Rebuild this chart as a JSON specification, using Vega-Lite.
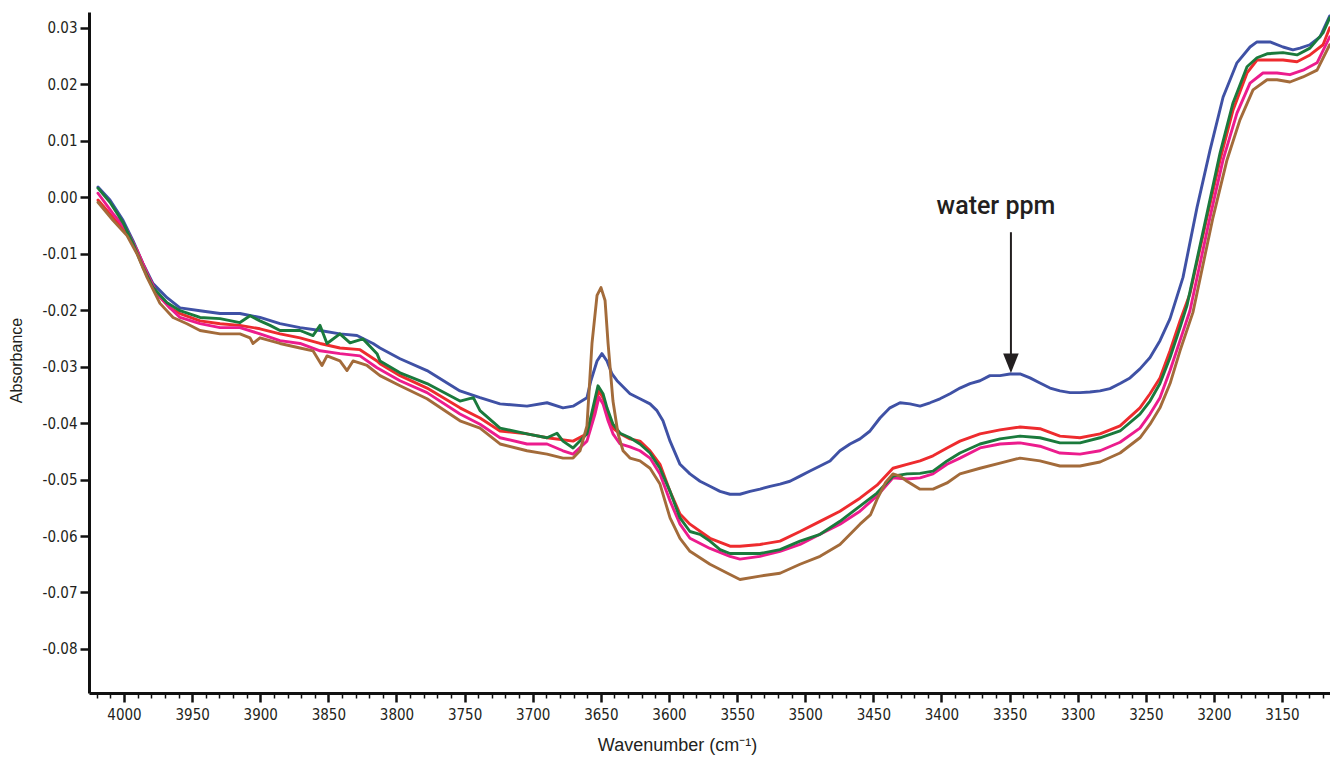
{
  "$schema": "https://vega.github.io/schema/vega-lite/v6.json",
  "autosize": "none",
  "width": 1241,
  "height": 681,
  "padding": {"left": 89, "top": 12, "right": 0, "bottom": 64},
  "background": "white",
  "config": {"view": {"stroke": null}},
  "resolve": {"axis": {"x": "independent"}},
  "layer": [
    {
      "data": {"values": [
        {"s":"blue","w":4019.1,"a":0.0018},{"s":"blue","w":4010.3,"a":-0.0005},{"s":"blue","w":4000.7,"a":-0.0041},{"s":"blue","w":3993.4,"a":-0.0077},{"s":"blue","w":3986.1,"a":-0.0117},{"s":"blue","w":3978.7,"a":-0.0153},{"s":"blue","w":3968.4,"a":-0.0178},{"s":"blue","w":3958.9,"a":-0.0196},{"s":"blue","w":3944.2,"a":-0.0201},{"s":"blue","w":3929.5,"a":-0.0206},{"s":"blue","w":3914.9,"a":-0.0206},{"s":"blue","w":3900.2,"a":-0.0213},{"s":"blue","w":3885.5,"a":-0.0224},{"s":"blue","w":3870.8,"a":-0.0231},{"s":"blue","w":3856.1,"a":-0.0236},{"s":"blue","w":3841.5,"a":-0.0242},{"s":"blue","w":3829.0,"a":-0.0245},{"s":"blue","w":3817.2,"a":-0.0259},{"s":"blue","w":3812.1,"a":-0.0267},{"s":"blue","w":3797.4,"a":-0.0286},{"s":"blue","w":3777.6,"a":-0.0307},{"s":"blue","w":3753.4,"a":-0.0343},{"s":"blue","w":3738.7,"a":-0.0355},{"s":"blue","w":3724.0,"a":-0.0366},{"s":"blue","w":3704.2,"a":-0.0370},{"s":"blue","w":3689.5,"a":-0.0364},{"s":"blue","w":3677.8,"a":-0.0373},{"s":"blue","w":3670.4,"a":-0.0370},{"s":"blue","w":3660.2,"a":-0.0355},{"s":"blue","w":3657.3,"a":-0.0325},{"s":"blue","w":3652.8,"a":-0.0290},{"s":"blue","w":3649.2,"a":-0.0277},{"s":"blue","w":3645.5,"a":-0.0290},{"s":"blue","w":3641.8,"a":-0.0313},{"s":"blue","w":3638.1,"a":-0.0325},{"s":"blue","w":3628.6,"a":-0.0348},{"s":"blue","w":3621.3,"a":-0.0357},{"s":"blue","w":3613.9,"a":-0.0366},{"s":"blue","w":3608.8,"a":-0.0378},{"s":"blue","w":3604.4,"a":-0.0396},{"s":"blue","w":3599.2,"a":-0.0432},{"s":"blue","w":3591.9,"a":-0.0473},{"s":"blue","w":3584.6,"a":-0.0490},{"s":"blue","w":3577.2,"a":-0.0503},{"s":"blue","w":3569.9,"a":-0.0512},{"s":"blue","w":3562.5,"a":-0.0521},{"s":"blue","w":3555.2,"a":-0.0526},{"s":"blue","w":3547.9,"a":-0.0526},{"s":"blue","w":3540.5,"a":-0.0521},{"s":"blue","w":3533.2,"a":-0.0517},{"s":"blue","w":3525.8,"a":-0.0512},{"s":"blue","w":3518.5,"a":-0.0508},{"s":"blue","w":3511.2,"a":-0.0503},{"s":"blue","w":3503.8,"a":-0.0494},{"s":"blue","w":3496.5,"a":-0.0485},{"s":"blue","w":3489.1,"a":-0.0476},{"s":"blue","w":3481.8,"a":-0.0467},{"s":"blue","w":3474.5,"a":-0.0449},{"s":"blue","w":3467.1,"a":-0.0437},{"s":"blue","w":3459.8,"a":-0.0428},{"s":"blue","w":3452.4,"a":-0.0414},{"s":"blue","w":3445.1,"a":-0.0391},{"s":"blue","w":3437.8,"a":-0.0373},{"s":"blue","w":3430.4,"a":-0.0364},{"s":"blue","w":3423.1,"a":-0.0366},{"s":"blue","w":3415.7,"a":-0.0370},{"s":"blue","w":3408.4,"a":-0.0364},{"s":"blue","w":3401.1,"a":-0.0357},{"s":"blue","w":3393.7,"a":-0.0348},{"s":"blue","w":3386.4,"a":-0.0338},{"s":"blue","w":3379.0,"a":-0.0330},{"s":"blue","w":3371.7,"a":-0.0325},{"s":"blue","w":3364.4,"a":-0.0316},{"s":"blue","w":3357.0,"a":-0.0316},{"s":"blue","w":3349.7,"a":-0.0313},{"s":"blue","w":3342.3,"a":-0.0313},{"s":"blue","w":3335.0,"a":-0.0320},{"s":"blue","w":3327.7,"a":-0.0329},{"s":"blue","w":3320.3,"a":-0.0338},{"s":"blue","w":3313.0,"a":-0.0343},{"s":"blue","w":3305.6,"a":-0.0346},{"s":"blue","w":3298.3,"a":-0.0346},{"s":"blue","w":3291.0,"a":-0.0345},{"s":"blue","w":3283.6,"a":-0.0343},{"s":"blue","w":3276.3,"a":-0.0339},{"s":"blue","w":3268.9,"a":-0.0330},{"s":"blue","w":3261.6,"a":-0.0320},{"s":"blue","w":3254.3,"a":-0.0304},{"s":"blue","w":3246.9,"a":-0.0284},{"s":"blue","w":3239.6,"a":-0.0254},{"s":"blue","w":3232.2,"a":-0.0215},{"s":"blue","w":3222.7,"a":-0.0142},{"s":"blue","w":3212.4,"a":-0.0018},{"s":"blue","w":3202.9,"a":0.0083},{"s":"blue","w":3193.3,"a":0.0177},{"s":"blue","w":3183.1,"a":0.0238},{"s":"blue","w":3173.5,"a":0.0266},{"s":"blue","w":3168.4,"a":0.0275},{"s":"blue","w":3158.8,"a":0.0275},{"s":"blue","w":3149.3,"a":0.0266},{"s":"blue","w":3142.0,"a":0.0261},{"s":"blue","w":3136.8,"a":0.0264},{"s":"blue","w":3129.5,"a":0.0270},{"s":"blue","w":3122.1,"a":0.0284},{"s":"blue","w":3115.0,"a":0.0321},

        {"s":"red","w":4019.1,"a":-0.0005},{"s":"red","w":4008.1,"a":-0.0036},{"s":"red","w":3997.8,"a":-0.0064},{"s":"red","w":3990.5,"a":-0.0094},{"s":"red","w":3983.1,"a":-0.0135},{"s":"red","w":3975.8,"a":-0.0171},{"s":"red","w":3966.2,"a":-0.0196},{"s":"red","w":3958.9,"a":-0.0206},{"s":"red","w":3944.2,"a":-0.0219},{"s":"red","w":3929.5,"a":-0.0224},{"s":"red","w":3914.9,"a":-0.0227},{"s":"red","w":3900.2,"a":-0.0233},{"s":"red","w":3885.5,"a":-0.0242},{"s":"red","w":3870.8,"a":-0.0249},{"s":"red","w":3856.1,"a":-0.0259},{"s":"red","w":3841.5,"a":-0.0267},{"s":"red","w":3826.8,"a":-0.0270},{"s":"red","w":3814.3,"a":-0.0290},{"s":"red","w":3812.1,"a":-0.0295},{"s":"red","w":3797.4,"a":-0.0316},{"s":"red","w":3777.6,"a":-0.0338},{"s":"red","w":3753.4,"a":-0.0373},{"s":"red","w":3738.7,"a":-0.0391},{"s":"red","w":3724.0,"a":-0.0414},{"s":"red","w":3704.2,"a":-0.0419},{"s":"red","w":3689.5,"a":-0.0426},{"s":"red","w":3670.4,"a":-0.0432},{"s":"red","w":3660.2,"a":-0.0419},{"s":"red","w":3655.8,"a":-0.0384},{"s":"red","w":3651.4,"a":-0.0343},{"s":"red","w":3648.4,"a":-0.0355},{"s":"red","w":3644.7,"a":-0.0384},{"s":"red","w":3641.1,"a":-0.0409},{"s":"red","w":3635.9,"a":-0.0419},{"s":"red","w":3628.6,"a":-0.0428},{"s":"red","w":3621.3,"a":-0.0432},{"s":"red","w":3613.9,"a":-0.0449},{"s":"red","w":3606.6,"a":-0.0473},{"s":"red","w":3599.2,"a":-0.0521},{"s":"red","w":3591.9,"a":-0.0561},{"s":"red","w":3584.6,"a":-0.0579},{"s":"red","w":3569.9,"a":-0.0604},{"s":"red","w":3555.2,"a":-0.0618},{"s":"red","w":3547.9,"a":-0.0618},{"s":"red","w":3533.2,"a":-0.0615},{"s":"red","w":3518.5,"a":-0.0609},{"s":"red","w":3503.8,"a":-0.0592},{"s":"red","w":3489.1,"a":-0.0574},{"s":"red","w":3474.5,"a":-0.0556},{"s":"red","w":3459.8,"a":-0.0533},{"s":"red","w":3447.3,"a":-0.0510},{"s":"red","w":3435.6,"a":-0.0480},{"s":"red","w":3425.3,"a":-0.0473},{"s":"red","w":3415.7,"a":-0.0467},{"s":"red","w":3406.2,"a":-0.0458},{"s":"red","w":3395.9,"a":-0.0444},{"s":"red","w":3386.4,"a":-0.0432},{"s":"red","w":3371.7,"a":-0.0419},{"s":"red","w":3357.0,"a":-0.0412},{"s":"red","w":3342.3,"a":-0.0407},{"s":"red","w":3327.7,"a":-0.0410},{"s":"red","w":3313.0,"a":-0.0423},{"s":"red","w":3298.3,"a":-0.0426},{"s":"red","w":3283.6,"a":-0.0419},{"s":"red","w":3268.9,"a":-0.0405},{"s":"red","w":3254.3,"a":-0.0373},{"s":"red","w":3246.9,"a":-0.0348},{"s":"red","w":3239.6,"a":-0.0320},{"s":"red","w":3232.2,"a":-0.0272},{"s":"red","w":3224.9,"a":-0.0219},{"s":"red","w":3217.6,"a":-0.0171},{"s":"red","w":3205.1,"a":-0.0036},{"s":"red","w":3195.5,"a":0.0066},{"s":"red","w":3186.0,"a":0.0154},{"s":"red","w":3175.7,"a":0.0220},{"s":"red","w":3168.4,"a":0.0243},{"s":"red","w":3158.8,"a":0.0243},{"s":"red","w":3149.3,"a":0.0243},{"s":"red","w":3139.0,"a":0.0240},{"s":"red","w":3129.5,"a":0.0252},{"s":"red","w":3119.9,"a":0.0270},{"s":"red","w":3115.0,"a":0.0300},

        {"s":"pink","w":4019.1,"a":0.0007},{"s":"pink","w":4008.1,"a":-0.0029},{"s":"pink","w":3997.8,"a":-0.0059},{"s":"pink","w":3990.5,"a":-0.0094},{"s":"pink","w":3983.1,"a":-0.0135},{"s":"pink","w":3975.8,"a":-0.0171},{"s":"pink","w":3966.2,"a":-0.0196},{"s":"pink","w":3958.9,"a":-0.0213},{"s":"pink","w":3944.2,"a":-0.0224},{"s":"pink","w":3929.5,"a":-0.0231},{"s":"pink","w":3914.9,"a":-0.0231},{"s":"pink","w":3900.2,"a":-0.0242},{"s":"pink","w":3885.5,"a":-0.0254},{"s":"pink","w":3870.8,"a":-0.0259},{"s":"pink","w":3856.1,"a":-0.0272},{"s":"pink","w":3841.5,"a":-0.0277},{"s":"pink","w":3826.8,"a":-0.0281},{"s":"pink","w":3814.3,"a":-0.0302},{"s":"pink","w":3797.4,"a":-0.0325},{"s":"pink","w":3777.6,"a":-0.0346},{"s":"pink","w":3753.4,"a":-0.0384},{"s":"pink","w":3738.7,"a":-0.0402},{"s":"pink","w":3724.0,"a":-0.0426},{"s":"pink","w":3704.2,"a":-0.0437},{"s":"pink","w":3689.5,"a":-0.0437},{"s":"pink","w":3677.8,"a":-0.0449},{"s":"pink","w":3670.4,"a":-0.0455},{"s":"pink","w":3660.2,"a":-0.0432},{"s":"pink","w":3654.3,"a":-0.0384},{"s":"pink","w":3651.4,"a":-0.0354},{"s":"pink","w":3648.4,"a":-0.0366},{"s":"pink","w":3644.7,"a":-0.0396},{"s":"pink","w":3641.1,"a":-0.0419},{"s":"pink","w":3635.9,"a":-0.0437},{"s":"pink","w":3628.6,"a":-0.0442},{"s":"pink","w":3621.3,"a":-0.0449},{"s":"pink","w":3613.9,"a":-0.0462},{"s":"pink","w":3606.6,"a":-0.0490},{"s":"pink","w":3599.2,"a":-0.0538},{"s":"pink","w":3591.9,"a":-0.0579},{"s":"pink","w":3584.6,"a":-0.0604},{"s":"pink","w":3569.9,"a":-0.0622},{"s":"pink","w":3555.2,"a":-0.0636},{"s":"pink","w":3547.9,"a":-0.0641},{"s":"pink","w":3533.2,"a":-0.0636},{"s":"pink","w":3518.5,"a":-0.0627},{"s":"pink","w":3503.8,"a":-0.0615},{"s":"pink","w":3489.1,"a":-0.0597},{"s":"pink","w":3474.5,"a":-0.0579},{"s":"pink","w":3459.8,"a":-0.0556},{"s":"pink","w":3447.3,"a":-0.0529},{"s":"pink","w":3435.6,"a":-0.0497},{"s":"pink","w":3425.3,"a":-0.0499},{"s":"pink","w":3415.7,"a":-0.0497},{"s":"pink","w":3406.2,"a":-0.0490},{"s":"pink","w":3395.9,"a":-0.0473},{"s":"pink","w":3386.4,"a":-0.0462},{"s":"pink","w":3371.7,"a":-0.0444},{"s":"pink","w":3357.0,"a":-0.0437},{"s":"pink","w":3342.3,"a":-0.0435},{"s":"pink","w":3327.7,"a":-0.0441},{"s":"pink","w":3313.0,"a":-0.0453},{"s":"pink","w":3298.3,"a":-0.0455},{"s":"pink","w":3283.6,"a":-0.0449},{"s":"pink","w":3268.9,"a":-0.0434},{"s":"pink","w":3254.3,"a":-0.0409},{"s":"pink","w":3246.9,"a":-0.0384},{"s":"pink","w":3239.6,"a":-0.0355},{"s":"pink","w":3232.2,"a":-0.0307},{"s":"pink","w":3224.9,"a":-0.0254},{"s":"pink","w":3217.6,"a":-0.0201},{"s":"pink","w":3202.9,"a":-0.0036},{"s":"pink","w":3193.3,"a":0.0066},{"s":"pink","w":3183.1,"a":0.0149},{"s":"pink","w":3173.5,"a":0.0202},{"s":"pink","w":3164.0,"a":0.0220},{"s":"pink","w":3153.7,"a":0.0220},{"s":"pink","w":3144.2,"a":0.0217},{"s":"pink","w":3134.6,"a":0.0225},{"s":"pink","w":3124.3,"a":0.0238},{"s":"pink","w":3115.0,"a":0.0284},

        {"s":"green","w":4019.1,"a":0.0016},{"s":"green","w":4010.3,"a":-0.0009},{"s":"green","w":4000.7,"a":-0.0045},{"s":"green","w":3993.4,"a":-0.0082},{"s":"green","w":3986.1,"a":-0.0124},{"s":"green","w":3978.7,"a":-0.0160},{"s":"green","w":3968.4,"a":-0.0187},{"s":"green","w":3958.9,"a":-0.0201},{"s":"green","w":3944.2,"a":-0.0213},{"s":"green","w":3929.5,"a":-0.0215},{"s":"green","w":3914.9,"a":-0.0222},{"s":"green","w":3907.5,"a":-0.0210},{"s":"green","w":3900.2,"a":-0.0219},{"s":"green","w":3892.8,"a":-0.0227},{"s":"green","w":3885.5,"a":-0.0236},{"s":"green","w":3870.8,"a":-0.0236},{"s":"green","w":3861.3,"a":-0.0245},{"s":"green","w":3856.1,"a":-0.0227},{"s":"green","w":3851.0,"a":-0.0259},{"s":"green","w":3841.5,"a":-0.0242},{"s":"green","w":3834.1,"a":-0.0258},{"s":"green","w":3824.6,"a":-0.0251},{"s":"green","w":3814.3,"a":-0.0277},{"s":"green","w":3812.1,"a":-0.0290},{"s":"green","w":3797.4,"a":-0.0311},{"s":"green","w":3777.6,"a":-0.0330},{"s":"green","w":3753.4,"a":-0.0361},{"s":"green","w":3743.6,"a":-0.0355},{"s":"green","w":3738.7,"a":-0.0378},{"s":"green","w":3724.0,"a":-0.0409},{"s":"green","w":3704.2,"a":-0.0419},{"s":"green","w":3689.5,"a":-0.0426},{"s":"green","w":3682.2,"a":-0.0418},{"s":"green","w":3677.8,"a":-0.0432},{"s":"green","w":3670.4,"a":-0.0444},{"s":"green","w":3660.2,"a":-0.0419},{"s":"green","w":3655.8,"a":-0.0373},{"s":"green","w":3652.1,"a":-0.0334},{"s":"green","w":3648.4,"a":-0.0348},{"s":"green","w":3645.5,"a":-0.0373},{"s":"green","w":3641.1,"a":-0.0402},{"s":"green","w":3635.9,"a":-0.0418},{"s":"green","w":3628.6,"a":-0.0426},{"s":"green","w":3621.3,"a":-0.0437},{"s":"green","w":3613.9,"a":-0.0453},{"s":"green","w":3606.6,"a":-0.0480},{"s":"green","w":3599.2,"a":-0.0521},{"s":"green","w":3591.9,"a":-0.0568},{"s":"green","w":3584.6,"a":-0.0592},{"s":"green","w":3577.2,"a":-0.0597},{"s":"green","w":3569.9,"a":-0.0609},{"s":"green","w":3562.5,"a":-0.0624},{"s":"green","w":3555.2,"a":-0.0631},{"s":"green","w":3547.9,"a":-0.0631},{"s":"green","w":3533.2,"a":-0.0631},{"s":"green","w":3518.5,"a":-0.0624},{"s":"green","w":3503.8,"a":-0.0609},{"s":"green","w":3489.1,"a":-0.0597},{"s":"green","w":3474.5,"a":-0.0574},{"s":"green","w":3459.8,"a":-0.0547},{"s":"green","w":3447.3,"a":-0.0524},{"s":"green","w":3435.6,"a":-0.0494},{"s":"green","w":3425.3,"a":-0.0490},{"s":"green","w":3415.7,"a":-0.0489},{"s":"green","w":3406.2,"a":-0.0485},{"s":"green","w":3395.9,"a":-0.0467},{"s":"green","w":3386.4,"a":-0.0453},{"s":"green","w":3371.7,"a":-0.0437},{"s":"green","w":3357.0,"a":-0.0428},{"s":"green","w":3342.3,"a":-0.0423},{"s":"green","w":3327.7,"a":-0.0426},{"s":"green","w":3313.0,"a":-0.0435},{"s":"green","w":3298.3,"a":-0.0435},{"s":"green","w":3283.6,"a":-0.0426},{"s":"green","w":3268.9,"a":-0.0414},{"s":"green","w":3254.3,"a":-0.0384},{"s":"green","w":3246.9,"a":-0.0361},{"s":"green","w":3239.6,"a":-0.0330},{"s":"green","w":3232.2,"a":-0.0284},{"s":"green","w":3224.9,"a":-0.0231},{"s":"green","w":3219.8,"a":-0.0192},{"s":"green","w":3205.1,"a":-0.0029},{"s":"green","w":3195.5,"a":0.0078},{"s":"green","w":3186.0,"a":0.0167},{"s":"green","w":3175.7,"a":0.0231},{"s":"green","w":3168.4,"a":0.0247},{"s":"green","w":3161.0,"a":0.0254},{"s":"green","w":3149.3,"a":0.0256},{"s":"green","w":3139.0,"a":0.0252},{"s":"green","w":3129.5,"a":0.0264},{"s":"green","w":3119.9,"a":0.0291},{"s":"green","w":3115.0,"a":0.0318},

        {"s":"brown","w":4019.1,"a":-0.0009},{"s":"brown","w":4008.1,"a":-0.0041},{"s":"brown","w":3997.8,"a":-0.0068},{"s":"brown","w":3990.5,"a":-0.0100},{"s":"brown","w":3983.1,"a":-0.0142},{"s":"brown","w":3973.6,"a":-0.0188},{"s":"brown","w":3964.0,"a":-0.0213},{"s":"brown","w":3953.8,"a":-0.0224},{"s":"brown","w":3944.2,"a":-0.0236},{"s":"brown","w":3929.5,"a":-0.0242},{"s":"brown","w":3914.9,"a":-0.0242},{"s":"brown","w":3907.5,"a":-0.0249},{"s":"brown","w":3905.3,"a":-0.0259},{"s":"brown","w":3900.2,"a":-0.0249},{"s":"brown","w":3885.5,"a":-0.0259},{"s":"brown","w":3870.8,"a":-0.0267},{"s":"brown","w":3861.3,"a":-0.0272},{"s":"brown","w":3854.7,"a":-0.0298},{"s":"brown","w":3851.0,"a":-0.0281},{"s":"brown","w":3841.5,"a":-0.0290},{"s":"brown","w":3836.3,"a":-0.0307},{"s":"brown","w":3831.9,"a":-0.0290},{"s":"brown","w":3821.6,"a":-0.0298},{"s":"brown","w":3812.1,"a":-0.0316},{"s":"brown","w":3797.4,"a":-0.0334},{"s":"brown","w":3777.6,"a":-0.0357},{"s":"brown","w":3753.4,"a":-0.0396},{"s":"brown","w":3738.7,"a":-0.0409},{"s":"brown","w":3724.0,"a":-0.0437},{"s":"brown","w":3704.2,"a":-0.0449},{"s":"brown","w":3689.5,"a":-0.0455},{"s":"brown","w":3677.8,"a":-0.0462},{"s":"brown","w":3670.4,"a":-0.0462},{"s":"brown","w":3665.3,"a":-0.0449},{"s":"brown","w":3660.2,"a":-0.0405},{"s":"brown","w":3656.5,"a":-0.0259},{"s":"brown","w":3652.8,"a":-0.0174},{"s":"brown","w":3649.9,"a":-0.0160},{"s":"brown","w":3646.9,"a":-0.0183},{"s":"brown","w":3644.7,"a":-0.0259},{"s":"brown","w":3641.1,"a":-0.0361},{"s":"brown","w":3637.4,"a":-0.0419},{"s":"brown","w":3633.7,"a":-0.0449},{"s":"brown","w":3628.6,"a":-0.0462},{"s":"brown","w":3621.3,"a":-0.0467},{"s":"brown","w":3613.9,"a":-0.0480},{"s":"brown","w":3606.6,"a":-0.0508},{"s":"brown","w":3599.2,"a":-0.0568},{"s":"brown","w":3591.9,"a":-0.0604},{"s":"brown","w":3584.6,"a":-0.0627},{"s":"brown","w":3569.9,"a":-0.0650},{"s":"brown","w":3555.2,"a":-0.0668},{"s":"brown","w":3547.9,"a":-0.0677},{"s":"brown","w":3533.2,"a":-0.0671},{"s":"brown","w":3518.5,"a":-0.0666},{"s":"brown","w":3503.8,"a":-0.0650},{"s":"brown","w":3489.1,"a":-0.0636},{"s":"brown","w":3474.5,"a":-0.0615},{"s":"brown","w":3459.8,"a":-0.0579},{"s":"brown","w":3452.0,"a":-0.0562},{"s":"brown","w":3447.3,"a":-0.0535},{"s":"brown","w":3441.0,"a":-0.0505},{"s":"brown","w":3435.6,"a":-0.0490},{"s":"brown","w":3430.4,"a":-0.0494},{"s":"brown","w":3425.3,"a":-0.0503},{"s":"brown","w":3415.7,"a":-0.0517},{"s":"brown","w":3406.2,"a":-0.0517},{"s":"brown","w":3395.9,"a":-0.0506},{"s":"brown","w":3386.4,"a":-0.0490},{"s":"brown","w":3371.7,"a":-0.0480},{"s":"brown","w":3357.0,"a":-0.0471},{"s":"brown","w":3342.3,"a":-0.0462},{"s":"brown","w":3327.7,"a":-0.0467},{"s":"brown","w":3313.0,"a":-0.0476},{"s":"brown","w":3298.3,"a":-0.0476},{"s":"brown","w":3283.6,"a":-0.0469},{"s":"brown","w":3268.9,"a":-0.0453},{"s":"brown","w":3254.3,"a":-0.0426},{"s":"brown","w":3246.9,"a":-0.0402},{"s":"brown","w":3239.6,"a":-0.0373},{"s":"brown","w":3232.2,"a":-0.0330},{"s":"brown","w":3224.9,"a":-0.0272},{"s":"brown","w":3215.4,"a":-0.0204},{"s":"brown","w":3200.7,"a":-0.0036},{"s":"brown","w":3190.4,"a":0.0066},{"s":"brown","w":3180.9,"a":0.0137},{"s":"brown","w":3171.3,"a":0.0190},{"s":"brown","w":3161.0,"a":0.0208},{"s":"brown","w":3153.7,"a":0.0208},{"s":"brown","w":3144.2,"a":0.0204},{"s":"brown","w":3134.6,"a":0.0213},{"s":"brown","w":3124.3,"a":0.0225},{"s":"brown","w":3115.0,"a":0.0270}
      ]},
      "mark": {"type": "line", "strokeWidth": 2.9, "strokeJoin": "round", "strokeCap": "round"},
      "encoding": {
        "x": {
          "field": "w", "type": "quantitative",
          "scale": {"domain": [3114.8, 4025.7], "reverse": true, "nice": false, "zero": false},
          "axis": {
            "orient": "bottom",
            "values": [4000,3950,3900,3850,3800,3750,3700,3650,3600,3550,3500,3450,3400,3350,3300,3250,3200,3150],
            "format": "d",
            "title": "Wavenumber (cm⁻¹)",
            "titleFont": "Liberation Sans",
            "titleFontSize": 18,
            "titleFontWeight": "normal",
            "titleColor": "#231f20",
            "titlePadding": 14,
            "titleX": 588,
            "titleAlign": "center",
            "labelFont": "Liberation Sans Narrow, DejaVu Sans Condensed, sans-serif",
            "labelFontSize": 15,
            "labelColor": "#231f20",
            "labelPadding": 5,
            "tickSize": 9,
            "tickWidth": 2.5,
            "tickColor": "#111111",
            "domainColor": "#111111",
            "domainWidth": 3,
            "grid": false
          }
        },
        "y": {
          "field": "a", "type": "quantitative",
          "scale": {"domain": [-0.0878, 0.0328], "nice": false, "zero": false},
          "axis": {
            "values": [-0.08,-0.07,-0.06,-0.05,-0.04,-0.03,-0.02,-0.01,0,0.01,0.02,0.03],
            "labelExpr": "replace(format(datum.value, '.2f'), '−', '-')",
            "title": "Absorbance",
            "titleFont": "Liberation Sans",
            "titleFontSize": 16,
            "titleFontWeight": "normal",
            "titleColor": "#231f20",
            "titlePadding": 18,
            "titleY": 348,
            "titleAlign": "center",
            "labelFont": "Liberation Sans Narrow, DejaVu Sans Condensed, sans-serif",
            "labelFontSize": 15,
            "labelColor": "#231f20",
            "labelPadding": 3,
            "tickSize": 9,
            "tickWidth": 2.5,
            "tickColor": "#111111",
            "domainColor": "#111111",
            "domainWidth": 3,
            "grid": false
          }
        },
        "color": {
          "field": "s", "type": "nominal",
          "scale": {"domain": ["blue","red","pink","green","brown"], "range": ["#3f51a5","#ee2b2e","#ec1c8d","#1a7a3c","#a36b3a"]},
          "legend": null
        }
      }
    },
    {
      "data": {"values": [{"w": 3349, "a": -0.0062, "a2": -0.0288}]},
      "mark": {"type": "rule", "strokeWidth": 2, "color": "#231f20"},
      "encoding": {
        "x": {
          "field": "w", "type": "quantitative",
          "axis": {
            "orient": "bottom",
            "values": [4020,4010,3990,3980,3970,3960,3940,3930,3920,3910,3890,3880,3870,3860,3840,3830,3820,3810,3790,3780,3770,3760,3740,3730,3720,3710,3690,3680,3670,3660,3640,3630,3620,3610,3590,3580,3570,3560,3540,3530,3520,3510,3490,3480,3470,3460,3440,3430,3420,3410,3390,3380,3370,3360,3340,3330,3320,3310,3290,3280,3270,3260,3240,3230,3220,3210,3190,3180,3170,3160,3140,3130,3120],
            "labels": false, "domain": false, "grid": false, "title": null,
            "tickSize": 5, "tickWidth": 1.5, "tickColor": "#111111"
          }
        },
        "y": {"field": "a", "type": "quantitative"},
        "y2": {"field": "a2"}
      }
    },
    {
      "data": {"values": [{"w": 3349, "a": -0.0294}]},
      "mark": {"type": "point", "shape": "M-0.8,-1L0.8,-1L0,1Z", "size": 380, "filled": true, "opacity": 1, "color": "#231f20"},
      "encoding": {
        "x": {"field": "w", "type": "quantitative", "axis": null},
        "y": {"field": "a", "type": "quantitative"}
      }
    },
    {
      "data": {"values": [{"w": 3360, "a": -0.0030, "t": "water ppm"}]},
      "mark": {"type": "text", "font": "Roboto", "fontSize": 25, "fontWeight": 500, "color": "#231f20", "align": "center", "baseline": "alphabetic"},
      "encoding": {
        "x": {"field": "w", "type": "quantitative", "axis": null},
        "y": {"field": "a", "type": "quantitative"},
        "text": {"field": "t"}
      }
    }
  ]
}
